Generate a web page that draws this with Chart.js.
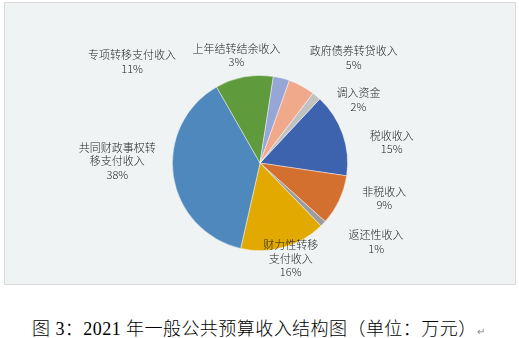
<!DOCTYPE html>
<html>
<head>
<meta charset="utf-8">
<script src="https://cdn.jsdelivr.net/npm/chart.js@4/dist/chart.umd.min.js"></script>
<style>
  html, body { margin: 0; padding: 0; background: #ffffff; width: 519px; height: 338px; overflow: hidden; }
  #box { position: absolute; left: 4px; top: 2px; width: 510px; height: 281px; border: 1px solid #d9d9d9; background: #eff3f4; }
  #box canvas { display: block; }
  #cap { position: absolute; left: 32px; top: 314px; white-space: nowrap; font-family: "Liberation Serif", "Noto Sans CJK SC", serif; font-size: 18px; font-weight: 300; letter-spacing: 0.45px; color: #000; }
  #cap .ret { font-family: "DejaVu Sans", sans-serif; font-size: 10px; color: #888; letter-spacing: 0; }
</style>
</head>
<body>
<div id="box"><canvas id="c" width="510" height="281"></canvas></div>
<div id="cap">图 3：2021 年一般公共预算收入结构图（单位：万元）<span class="ret">↵</span></div>
<script>
// Categories (in data order, clockwise from the start angle)
const categories = [
  ["税收收入"],
  ["非税收入"],
  ["返还性收入"],
  ["财力性转移", "支付收入"],
  ["共同财政事权转", "移支付收入"],
  ["专项转移支付收入"],
  ["上年结转结余收入"],
  ["政府债券转贷收入"],
  ["调入资金"]
];
// Share of each revenue item (percent)
const shares = [15.4, 9.3, 1.1, 15.8, 38.2, 10.7, 3.0, 4.9, 1.6];
const colors = ["#3d63ae", "#d4702f", "#9c9c9c", "#e2aa00", "#4f88bd", "#5f9a3d", "#96a6d7", "#f0a98b", "#c2c2c2"];
// label nudges relative to the outer edge at each slice's mid-angle
const labelDX = [49, 45, 53, 7, -56, -112, -45, 52, 42];
const labelDY = [8, -2, 18, 11, -15, -15, -23, -28, 4];

const total = shares.reduce((a, b) => a + b, 0);

const labelPlugin = {
  id: 'pieLabels',
  afterDatasetsDraw(chart) {
    const ctx = chart.ctx;
    const meta = chart.getDatasetMeta(0);
    ctx.save();
    ctx.font = '300 11px "Noto Sans CJK SC", sans-serif';
    ctx.fillStyle = '#1f1f1f';
    ctx.textAlign = 'center';
    ctx.textBaseline = 'middle';
    const lh = 13.5;
    meta.data.forEach((arc, i) => {
      const p = arc.getProps(['x', 'y', 'startAngle', 'endAngle', 'outerRadius'], true);
      const mid = (p.startAngle + p.endAngle) / 2;
      const ex = p.x + Math.cos(mid) * p.outerRadius;
      const ey = p.y + Math.sin(mid) * p.outerRadius;
      const cx = ex + labelDX[i];
      const cy = ey + labelDY[i];
      const lines = categories[i].concat([Math.round(shares[i] / total * 100) + '%']);
      const top = cy - (lines.length - 1) * lh / 2;
      lines.forEach((t, k) => ctx.fillText(t, cx, top + k * lh));
    });
    ctx.restore();
  }
};

new Chart(document.getElementById('c'), {
  type: 'pie',
  data: {
    labels: categories.map(c => c.join('')),
    datasets: [{
      data: shares,
      backgroundColor: colors,
      borderColor: 'rgba(255,255,255,0.55)',
      borderWidth: 0.8
    }]
  },
  options: {
    responsive: false,
    animation: false,
    rotation: 43,
    layout: { padding: { left: 167, right: 167, top: 72, bottom: 33 } },
    plugins: { legend: { display: false }, tooltip: { enabled: false }, title: { display: false } }
  },
  plugins: [labelPlugin]
});
</script>
</body>
</html>
